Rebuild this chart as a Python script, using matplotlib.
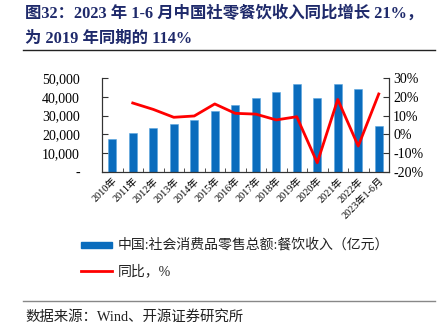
import matplotlib
matplotlib.use('Agg')
import matplotlib.pyplot as plt
from matplotlib.ticker import FuncFormatter, FixedLocator
from matplotlib.patches import Rectangle
from matplotlib.lines import Line2D
import numpy as np

# data
years = ['2010年', '2011年', '2012年', '2013年', '2014年', '2015年', '2016年',
         '2017年', '2018年', '2019年', '2020年', '2021年', '2022年', '2023年1-6月']
revenue = [17600, 20600, 23300, 25500, 27900, 32300, 35800,
           39600, 42700, 46700, 39500, 46900, 43900, 24400]
yoy = [np.nan, 16.7, 13.3, 9.1, 9.8, 16.2, 11.2,
       10.8, 7.7, 9.4, -15.1, 18.6, -6.2, 21.5]

serif = ['Liberation Serif', 'Noto Sans CJK SC']
plt.rcParams['font.family'] = serif
plt.rcParams['axes.unicode_minus'] = False

W, H = 441, 335
fig = plt.figure(figsize=(W / 100, H / 100), dpi=100)

# title
title_col = '#1f2a6b'
fig.text(25 / W, 1 - 13 / H, '图32：2023 年 1-6 月中国社零餐饮收入同比增长 21%，',
         fontsize=11.8, fontweight='bold', color=title_col, va='center', ha='left')
fig.text(25 / W, 1 - 39 / H, '为 2019 年同期的 114%',
         fontsize=11.8, fontweight='bold', color=title_col, va='center', ha='left')
fig.add_artist(Line2D([23 / W, 435 / W], [1 - 50 / H, 1 - 50 / H], color='#222222', lw=1.0))

ax = fig.add_axes([102 / W, 1 - 172 / H, 287 / W, 94 / H])
x = np.arange(len(years))
ax.bar(x, revenue, width=0.4, color='#0a6cbd', edgecolor='#5aa6e0', linewidth=0.4, zorder=2)
ax.set_ylim(0, 50000)
ax.set_xlim(-0.5, len(years) - 0.5)
ax.yaxis.set_major_locator(FixedLocator([0, 10000, 20000, 30000, 40000, 50000]))
ax.yaxis.set_major_formatter(FuncFormatter(lambda v, p: '-' if v == 0 else '{:,.0f}'.format(v)))
ax.set_xticks(x)
ax.set_xticklabels(years, rotation=45, ha='right', rotation_mode='anchor', fontsize=7.3)
ax.set_xticks(x[:-1] + 0.5, minor=True)
ax.tick_params(axis='x', which='major', length=0, pad=3)
ax.tick_params(axis='x', which='minor', length=3, direction='in', color='#333333')
ax.tick_params(axis='y', length=4, direction='in', labelsize=10, pad=16, color='#333333')
ax.spines['top'].set_visible(False)
for s in ['left', 'bottom', 'right']:
    ax.spines[s].set_color('#333333')

ax2 = ax.twinx()
ax2.plot(x, yoy, color='#ff0000', lw=2.0, zorder=3)
ax2.set_ylim(-20, 30)
ax2.yaxis.set_major_locator(FixedLocator([-20, -10, 0, 10, 20, 30]))
ax2.yaxis.set_major_formatter(FuncFormatter(lambda v, p: '{:.0f}%'.format(v)))
ax2.tick_params(axis='y', length=4, direction='in', labelsize=10, pad=3, color='#333333')
ax2.spines['top'].set_visible(False)
for s in ['left', 'bottom', 'right']:
    ax2.spines[s].set_color('#333333')

# legend
fig.add_artist(Rectangle((81 / W, 1 - 248 / H), 31 / W, 6 / H, color='#0a6cbd', transform=fig.transFigure))
fig.text(118 / W, 1 - 245 / H, '中国:社会消费品零售总额:餐饮收入（亿元）', fontsize=10,
         va='center', ha='left', color='#222222')
fig.add_artist(Line2D([81 / W, 112 / W], [1 - 271 / H, 1 - 271 / H], color='#ff0000', lw=2.0))
fig.text(118 / W, 1 - 271 / H, '同比，%', fontsize=10, va='center', ha='left', color='#222222')

# source
fig.add_artist(Line2D([23 / W, 435 / W], [1 - 301 / H, 1 - 301 / H], color='#888888', lw=1.0))
fig.text(25 / W, 1 - 317 / H, '数据来源：Wind、开源证券研究所', fontsize=10.4,
         va='center', ha='left', color='#222222')

fig.savefig('out.png', dpi=100)
